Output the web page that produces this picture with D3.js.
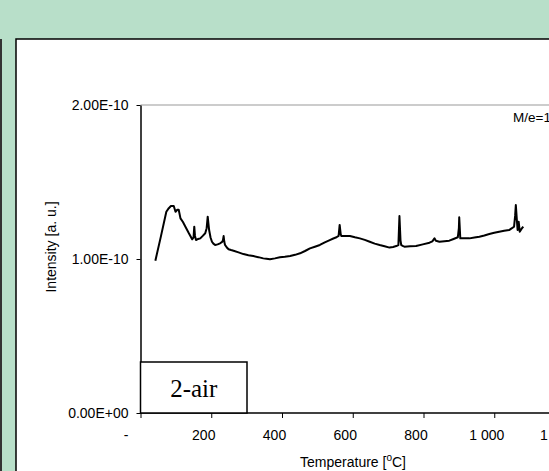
<!DOCTYPE html>
<html><head><meta charset="utf-8">
<script src="https://cdn.jsdelivr.net/npm/d3@7"></script>
<style>html,body{margin:0;padding:0;background:#b8dfc9;overflow:hidden}svg{display:block}</style>
</head><body>
<script>
const temperature = [42,58,73,80,86,94,99,104,108,113,120,127,136,146,150,152,154,157,163,169,176,183,187,190,192,194,198,202,206,211,218,225,230,233,235,237,239,244,249,256,263,277,291,305,319,333,347,356,366,380,394,408,423,437,451,465,479,493,507,521,535,545,554,560,563,566,568,580,592,606,620,634,648,662,676,690,704,714,723,729,732,735,737,741,746,762,779,798,817,825,831,835,845,859,873,885,897,900,901,903,904,917,930,944,958,972,986,1000,1014,1028,1042,1050,1056,1059,1061,1064,1066,1068,1069,1071,1072,1077,1082];
const intensity = [0.989,1.15,1.307,1.33,1.344,1.344,1.307,1.32,1.32,1.264,1.24,1.21,1.17,1.128,1.14,1.21,1.15,1.123,1.13,1.134,1.15,1.167,1.2,1.275,1.23,1.188,1.14,1.112,1.10,1.091,1.095,1.102,1.11,1.12,1.149,1.11,1.091,1.075,1.063,1.058,1.054,1.043,1.032,1.025,1.019,1.012,1.004,1.001,0.998,1.004,1.011,1.014,1.019,1.027,1.037,1.052,1.069,1.080,1.091,1.108,1.123,1.133,1.141,1.15,1.221,1.16,1.149,1.149,1.149,1.141,1.134,1.124,1.112,1.100,1.091,1.083,1.074,1.078,1.084,1.09,1.279,1.12,1.091,1.085,1.080,1.082,1.084,1.095,1.106,1.115,1.134,1.118,1.112,1.116,1.119,1.130,1.141,1.20,1.271,1.18,1.134,1.134,1.134,1.140,1.145,1.153,1.162,1.170,1.177,1.183,1.188,1.20,1.21,1.28,1.351,1.25,1.188,1.21,1.242,1.20,1.177,1.195,1.21];
const xTicks = [0,200,400,600,800,1000,1200];
const xTickLabels = ["-","200","400","600","800","1 000","1 200"];
const yTicks = [0,1e-10,2e-10];
const yTickLabels = ["0.00E+00","1.00E-10","2.00E-10"];
const xTitle = "Temperature [";
const yTitle = "Intensity [a. u.]";
const seriesLabel = "M/e=18";
const boxLabel = "2-air";

const W = 549, H = 471;
const svg = d3.select("body").append("svg").attr("width", W).attr("height", H);
svg.append("rect").attr("width", W).attr("height", H).attr("fill", "#b8dfc9");
svg.append("rect").attr("x", 0).attr("y", 39).attr("width", 2).attr("height", H).attr("fill", "#333");
svg.append("rect").attr("x", 16).attr("y", 39).attr("width", W).attr("height", H).attr("fill", "#fff")
  .attr("stroke", "#000").attr("stroke-width", 1.5);

const x = d3.scaleLinear().domain([0, 1200]).range([140.5, 565]);
const y = d3.scaleLinear().domain([0, 2e-10]).range([413, 105]);
const font = "'Liberation Sans', Arial, sans-serif";

// top border/grid
svg.append("line").attr("x1", x(0)).attr("x2", W).attr("y1", y(2e-10)).attr("y2", y(2e-10))
  .attr("stroke", "#999").attr("stroke-width", 1.2);

const xa = svg.append("g").attr("transform", `translate(0,${y(0)})`)
  .call(d3.axisBottom(x).tickValues(xTicks).tickSize(5).tickSizeOuter(0)
    .tickFormat((d, i) => xTickLabels[i]));
xa.select(".domain").attr("stroke", "#000").attr("stroke-width", 1.5).attr("d", `M${x(0)},0H${W}`);
xa.selectAll("text").attr("font-family", font).attr("font-size", 14).attr("fill", "#000")
  .attr("dy", "1.35em").attr("dx", (d) => d === 0 ? -15 : -8);
xa.selectAll(".tick line").attr("stroke", "#000");

const ya = svg.append("g").attr("transform", `translate(${x(0)},0)`)
  .call(d3.axisLeft(y).tickValues(yTicks).tickSize(4).tickSizeOuter(0)
    .tickFormat((d, i) => yTickLabels[i]));
ya.select(".domain").attr("stroke", "#000").attr("stroke-width", 1.5);
ya.selectAll("text").attr("font-family", font).attr("font-size", 14).attr("fill", "#000").attr("x", -12);
ya.selectAll(".tick line").attr("stroke", "#000");

// box label
const bx0 = x(0), bx1 = 247, by0 = 362, by1 = y(0);
svg.append("rect").attr("x", bx0).attr("y", by0).attr("width", bx1 - bx0).attr("height", by1 - by0)
  .attr("fill", "#fff").attr("stroke", "#000").attr("stroke-width", 1.5);
svg.append("text").attr("x", (bx0 + bx1) / 2).attr("y", 397).attr("text-anchor", "middle")
  .attr("font-family", "'Liberation Serif', 'Times New Roman', serif").attr("font-size", 25).text(boxLabel);

// data line
const data = temperature.map((t, i) => [t, intensity[i] * 1e-10]);
svg.append("path").datum(data)
  .attr("d", d3.line().x(d => x(d[0])).y(d => y(d[1])))
  .attr("fill", "none").attr("stroke", "#000").attr("stroke-width", 2).attr("stroke-linejoin", "round");

// series label
svg.append("text").attr("x", 513).attr("y", 122).attr("font-family", font).attr("font-size", 13.5).text(seriesLabel);

// axis titles
const xt = svg.append("text").attr("x", 353).attr("y", 467).attr("text-anchor", "middle")
  .attr("font-family", font).attr("font-size", 14);
xt.append("tspan").text(xTitle);
xt.append("tspan").attr("dy", -6).attr("font-size", 10).text("o");
xt.append("tspan").attr("dy", 6).text("C]");

svg.append("text").attr("transform", "translate(56,247) rotate(-90)").attr("text-anchor", "middle")
  .attr("font-family", font).attr("font-size", 14).text(yTitle);
</script>
</body></html>
